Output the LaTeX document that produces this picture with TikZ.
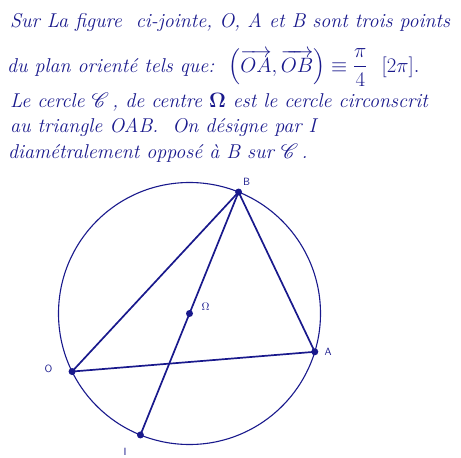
\documentclass[tikz,border=0pt]{standalone}
\usepackage{amsmath}
\usepackage{amssymb}
\usepackage{mathrsfs}
\usepackage{xcolor}
\usepackage{tikz}
\usetikzlibrary{positioning}
\definecolor{encre}{RGB}{25,25,140}

\begin{document}
\begin{tikzpicture}[x=1pt, y=1pt,
		pt/.style={circle, fill=encre, inner sep=0pt, minimum size=7pt},
		lbl/.style={font=\sffamily\fontsize{10.5}{12}\selectfont, text=encre, inner sep=0pt},
		txt/.style={anchor=base west, inner sep=0pt, text=encre, font=\fontsize{20}{24}\selectfont\itshape}]
		\useasboundingbox (0,0) rectangle (461,-458);
		
		\node[txt] (l1) at (10,-27) {Sur La figure\ \ ci-jointe, O, A et B sont trois points};
		\node[txt] (l2) at (7,-72) {du plan orient\'e tels que:\ \ $\left(\overrightarrow{OA},\overrightarrow{OB}\right)\equiv\dfrac{\pi}{4}\ \ [2\pi].$};
		\node[txt] (l3) at (10,-107) {Le cercle $\mathscr{C}$\,, de centre $\mathbf{\Omega}$ est le cercle circonscrit};
		\node[txt] (l4) at (10,-132) {au triangle OAB.\ \ On d\'esigne par I};
		\node[txt] (l5) at (8,-158) {diam\'etralement\ oppos\'e \`a B sur $\mathscr{C}$\,.};
		
		\coordinate (W) at (189.5,-313.5);
		\draw[encre, line width=1.1pt] (W) circle (131);
		
		\node[pt] (Om) at (W) {};
		\node[pt] (B) at ([shift={(68:131)}]W) {};
		\node[pt] (A) at ([shift={(-17:131)}]W) {};
		\node[pt] (O) at ([shift={(206.3:131)}]W) {};
		\node[pt] (I) at ([shift={(248:131)}]W) {};
		
		\node[lbl] (Bt) at (246.5,-181.5) {B};
		\node[lbl] (At) at (328,-351.5) {A};
		\node[lbl] (Ot) at (48.5,-369) {O};
		\node[lbl] (It) at (125,-451.5) {I};
		\node[lbl] (Omt) at (205.5,-306.5) {$\Omega$};
		
		\draw[encre, line width=1.7pt] (O.center)--(B.center)--(A.center)--cycle;
		\draw[encre, line width=1.7pt] (B.center)--(I.center);
	\end{tikzpicture}
\end{document}
